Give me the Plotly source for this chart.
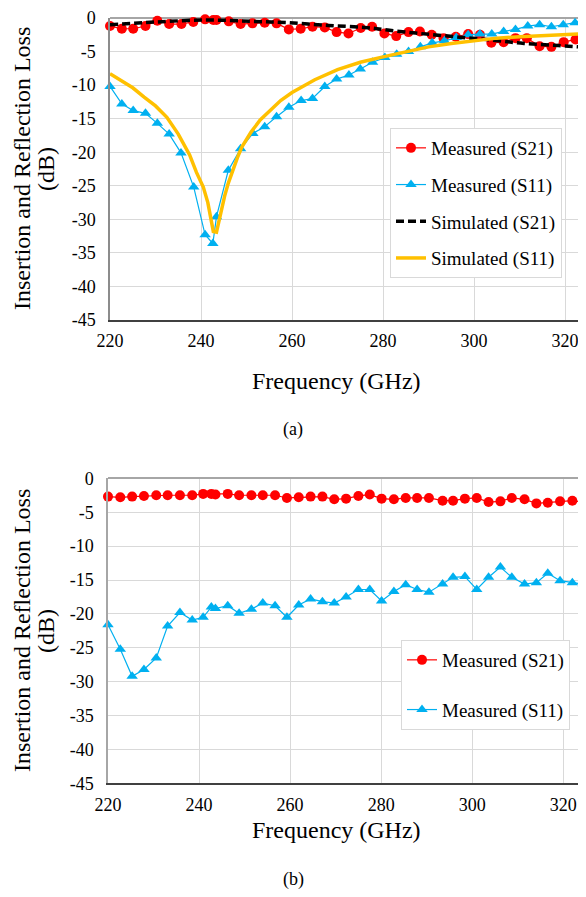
import plotly.graph_objects as go

# ---------------- data ----------------
# (a) top chart
a_meas_s21_f = [220, 222.6, 225.1, 227.8, 230.4, 233.0, 235.7, 238.3, 240.9, 242.7,
                243.4, 246.1, 248.7, 251.3, 254.0, 256.6, 259.3, 261.9, 264.5, 267.2,
                269.8, 272.4, 275.1, 277.6, 280.3, 282.9, 285.6, 288.1, 290.7, 293.3,
                296.0, 298.7, 301.3, 303.8, 306.5, 309.1, 311.6, 314.4, 317.0, 319.7,
                322.3, 324.6]
a_meas_s21_db = [-1.2, -1.6, -1.6, -1.2, -0.4, -0.9, -0.9, -0.6, -0.2, -0.3,
                 -0.3, -0.5, -0.9, -0.8, -0.7, -0.8, -1.7, -1.6, -1.3, -1.4,
                 -2.1, -2.3, -1.5, -1.3, -2.3, -2.7, -2.1, -2.0, -2.5, -3.0,
                 -2.8, -2.4, -2.5, -3.7, -3.6, -3.0, -3.0, -4.2, -4.3, -3.6,
                 -3.2, -4.4]

a_meas_s11_f = [220, 222.6, 225.1, 227.8, 230.4, 233.0, 235.6, 238.4, 240.9, 242.6,
                243.4, 246.0, 248.7, 251.4, 254.0, 256.6, 259.3, 262.0, 264.5, 267.2,
                269.8, 272.5, 275.0, 277.7, 280.4, 283.0, 285.6, 288.2, 290.8, 293.5,
                296.1, 298.7, 301.3, 303.9, 306.5, 309.1, 311.8, 314.4, 317.0, 319.6,
                322.2, 324.6]
a_meas_s11_db = [-10.2, -12.8, -13.8, -14.2, -15.7, -17.3, -20.1, -25.2, -32.3, -33.6,
                 -29.6, -22.7, -19.5, -17.2, -16.2, -14.7, -13.3, -12.3, -12.0, -10.2,
                 -9.1, -8.5, -7.6, -6.6, -5.9, -5.4, -5.0, -4.3, -3.7, -3.4,
                 -2.9, -2.5, -2.4, -2.4, -2.0, -1.7, -1.2, -1.0, -1.3, -1.0,
                 -0.7, -0.05]

a_sim_s21_f = [220, 230, 241, 251, 259, 268, 276, 281, 288, 296, 304, 311, 318.5, 325]
a_sim_s21_db = [-1.0, -0.6, -0.3, -0.5, -0.7, -1.1, -1.4, -1.8, -2.3, -2.8, -3.3, -3.8, -4.1, -4.4]

a_sim_s11_f = [220, 222.5, 225, 227.5, 230, 232.5, 235, 237.5, 239, 240.5,
               241.5, 242.2, 242.7, 243.4, 244.0, 244.5, 245.2, 246, 247, 248,
               249, 250, 251, 253, 255, 257.5, 260, 262.5, 265, 270,
               275, 280, 285, 290, 295, 300, 305, 310, 315, 320, 325]
a_sim_s11_db = [-8.3, -9.3, -10.4, -11.8, -13.1, -14.8, -17.3, -20.4, -23.0, -25.2,
                -27.5, -30.0, -31.8, -31.9, -30.0, -28.6, -26.5, -24.6, -22.5, -20.8,
                -19.2, -18.0, -17.0, -15.2, -13.9, -12.3, -11.1, -10.1, -9.2, -7.7,
                -6.6, -5.8, -5.0, -4.3, -3.8, -3.4, -3.0, -2.8, -2.6, -2.4, -2.3]

# (b) bottom chart
b_f = [220, 222.7, 225.3, 227.9, 230.6, 233.1, 235.8, 238.5, 240.9, 242.7,
       243.6, 246.3, 248.8, 251.5, 254.0, 256.7, 259.3, 261.9, 264.5, 267.1,
       269.7, 272.3, 275.0, 277.5, 280.1, 282.8, 285.4, 287.9, 290.5, 293.5,
       295.8, 298.4, 301.0, 303.6, 306.2, 308.7, 311.5, 314.1, 316.6, 319.3,
       322.0, 324.4]
b_meas_s21_db = [-2.7, -2.8, -2.7, -2.6, -2.5, -2.5, -2.5, -2.5, -2.3, -2.3,
                 -2.4, -2.3, -2.5, -2.5, -2.5, -2.5, -2.9, -2.8, -2.7, -2.7,
                 -3.1, -3.0, -2.6, -2.4, -3.0, -3.1, -2.9, -2.9, -2.9, -3.3,
                 -3.3, -3.0, -2.9, -3.5, -3.4, -2.9, -3.1, -3.7, -3.6, -3.4,
                 -3.3, -3.5]
b_meas_s11_db = [-21.6, -25.2, -29.2, -28.2, -26.5, -21.8, -19.8, -20.9, -20.5, -19.0,
                 -19.2, -18.8, -19.9, -19.3, -18.4, -18.8, -20.5, -18.7, -17.8, -18.2,
                 -18.4, -17.5, -16.4, -16.4, -18.1, -16.7, -15.7, -16.4, -16.8, -15.6,
                 -14.6, -14.5, -16.4, -14.6, -13.1, -14.6, -15.6, -15.4, -14.0, -15.1,
                 -15.4, -15.6]

x_ticks = [220, 240, 260, 280, 300, 320]
x_tick_labels = ["220", "240", "260", "280", "300", "320"]
y_ticks = [0, -5, -10, -15, -20, -25, -30, -35, -40, -45]
y_tick_labels = ["0", "-5", "-10", "-15", "-20", "-25", "-30", "-35", "-40", "-45"]

# ---------------- styling ----------------
# the page body has an 8px margin, so the figure is shrunk and positions offset
OFF = 8
W, H = 586 - OFF, 897 - 2 * OFF
FONT = "Liberation Serif"
RED = "#FF0000"
BLUE = "#00B0F0"
GOLD = "#FFC000"

def px(x):
    return (x - OFF) / W

def py(y):
    return 1 - (y - OFF) / H

fig = go.Figure()

# top chart traces
fig.add_trace(go.Scatter(x=a_meas_s21_f, y=a_meas_s21_db, name="Measured (S21)",
                         mode="lines+markers", line=dict(color=RED, width=1.2),
                         marker=dict(symbol="circle", size=10, color=RED),
                         xaxis="x", yaxis="y", legend="legend", legendgroup="a1",
                         cliponaxis=False))
fig.add_trace(go.Scatter(x=a_meas_s11_f, y=a_meas_s11_db, name="Measured (S11)",
                         mode="lines+markers", line=dict(color=BLUE, width=1.2),
                         marker=dict(symbol="triangle-up", size=10, color=BLUE),
                         xaxis="x", yaxis="y", legend="legend", legendgroup="a2",
                         cliponaxis=False))
fig.add_trace(go.Scatter(x=a_sim_s21_f, y=a_sim_s21_db, name="Simulated (S21)",
                         mode="lines", line=dict(color="black", width=3.5, dash="8px,4px"),
                         line_shape="spline",
                         xaxis="x", yaxis="y", legend="legend", legendgroup="a3",
                         cliponaxis=True))
fig.add_trace(go.Scatter(x=a_sim_s11_f, y=a_sim_s11_db, name="Simulated (S11)",
                         mode="lines", line=dict(color=GOLD, width=3.5),
                         xaxis="x", yaxis="y", legend="legend", legendgroup="a4",
                         cliponaxis=True))

# bottom chart traces
fig.add_trace(go.Scatter(x=b_f, y=b_meas_s21_db, name="Measured (S21)",
                         mode="lines+markers", line=dict(color=RED, width=1.2),
                         marker=dict(symbol="circle", size=10, color=RED),
                         xaxis="x2", yaxis="y2", legend="legend2", legendgroup="b1",
                         cliponaxis=False))
fig.add_trace(go.Scatter(x=b_f, y=b_meas_s11_db, name="Measured (S11)",
                         mode="lines+markers", line=dict(color=BLUE, width=1.2),
                         marker=dict(symbol="triangle-up", size=10, color=BLUE),
                         xaxis="x2", yaxis="y2", legend="legend2", legendgroup="b2",
                         cliponaxis=False))

tickfont = dict(family=FONT, size=18, color="black")
grid = "#D9D9D9"

def xaxis(domain, anchor, rng, linecolor):
    return dict(domain=domain, anchor=anchor, range=rng, tickvals=x_ticks,
                ticktext=x_tick_labels, tickfont=tickfont, showgrid=True,
                gridcolor=grid, gridwidth=1, showline=True, linecolor=linecolor,
                linewidth=1.5, zeroline=False, ticks="", automargin=False,
                ticklabelstandoff=4)

def yaxis(domain, anchor, linecolor):
    return dict(domain=domain, anchor=anchor, range=[-45, 0], tickvals=y_ticks,
                ticktext=y_tick_labels, tickfont=tickfont, showgrid=True,
                gridcolor=grid, gridwidth=1, showline=True, linecolor=linecolor,
                linewidth=1.5, zeroline=True, zerolinecolor="#A6A6A6",
                zerolinewidth=1.5, ticks="", automargin=False,
                ticklabelstandoff=9)

legend_common = dict(bgcolor="white", bordercolor="#D9D9D9", borderwidth=1,
                     font=dict(family=FONT, size=19, color="black"),
                     xanchor="left", yanchor="top", itemwidth=30,
                     traceorder="grouped")

title_font = dict(family=FONT, size=24, color="black")

annotations = [
    dict(text="Frequency (GHz)", x=px(336), y=py(381), font=title_font),
    dict(text="Frequency (GHz)", x=px(336), y=py(830), font=title_font),
    dict(text="(a)", x=px(293), y=py(430), font=dict(family=FONT, size=18, color="black")),
    dict(text="(b)", x=px(293), y=py(879), font=dict(family=FONT, size=18, color="black")),
    dict(text="Insertion and Reflection Loss", x=px(22), y=py(169), textangle=-90, font=title_font),
    dict(text="(dB)", x=px(46), y=py(169), textangle=-90, font=title_font),
    dict(text="Insertion and Reflection Loss", x=px(22), y=py(631), textangle=-90, font=title_font),
    dict(text="(dB)", x=px(46), y=py(631), textangle=-90, font=title_font),
]
for a in annotations:
    a.update(xref="paper", yref="paper", showarrow=False, xanchor="center", yanchor="middle")

fig.update_layout(
    width=W, height=H,
    margin=dict(l=0, r=0, t=0, b=0),
    paper_bgcolor="white", plot_bgcolor="white",
    font=dict(family=FONT),
    xaxis=xaxis([px(110), 1], "y", [220, 324.6], "#404040"),
    yaxis=yaxis([py(320), py(18)], "x", "#8C8C8C"),
    xaxis2=xaxis([px(108), 1], "y2", [220, 325], "#404040"),
    yaxis2=yaxis([py(783.4), py(478.3)], "x2", "#A6A6A6"),
    legend=dict(x=px(390), y=py(128), tracegroupgap=9, **legend_common),
    legend2=dict(x=px(401), y=py(640), tracegroupgap=22, **legend_common),
    annotations=annotations,
    showlegend=True,
)

fig.write_html("out.html")
